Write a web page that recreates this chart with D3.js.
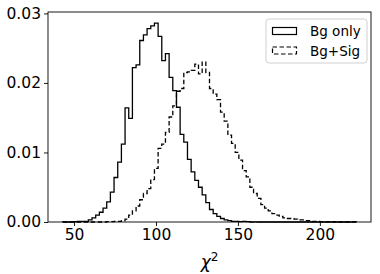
<!DOCTYPE html>
<html>
<head>
<meta charset="utf-8">
<script src="https://cdn.jsdelivr.net/npm/d3@7"></script>
<style>
  html, body { margin: 0; padding: 0; background: #fff; }
  svg { display: block; }
  text { font-family: "DejaVu Sans", sans-serif; fill: #000; }
</style>
</head>
<body>
<svg id="chart" width="380" height="274"></svg>
<script>
// ---- data (density histograms, 80 common bins) ----
const binStart = 43.05;
const binWidth = 2.24;
const bgOnly = [
  0.00003, 0, 0.00003, 0.00005, 0.0001, 0.0001,
  0.0001, 0.0003, 0.0006, 0.0010, 0.0014, 0.0020, 0.0029, 0.0043, 0.0064, 0.0086, 0.0112, 0.0164,
  0.0149, 0.0222, 0.0226, 0.0261, 0.0269, 0.0278, 0.0282, 0.0286, 0.0267, 0.0232, 0.0242, 0.0208, 0.0189, 0.0165,
  0.0126, 0.0115, 0.0090, 0.0072, 0.0060, 0.0050, 0.0039, 0.0028, 0.0018, 0.0012, 0.0008, 0.0005, 0.0003, 0.0002,
  0.0001, 0.0001, 0.00005, 0.0001, 0.00005, 0, 0.00003, 0, 0, 0, 0, 0, 0, 0,
  0, 0, 0, 0, 0, 0, 0, 0, 0, 0, 0, 0, 0, 0, 0, 0, 0, 0, 0, 0
];
const bgSig = [
  0, 0, 0, 0, 0, 0, 0, 0, 0, 0, 0, 0,
  0.00005, 0.00005, 0.0001, 0.0001, 0.0002,
  0.0004, 0.0010, 0.0016, 0.0023, 0.0032, 0.0041, 0.0048, 0.0061, 0.0077, 0.0106, 0.0112, 0.0129,
  0.0151, 0.0167, 0.0188, 0.0192, 0.0215, 0.0216, 0.0218, 0.0227, 0.0213, 0.0230, 0.0215, 0.0192, 0.0184, 0.0176,
  0.0158, 0.0145, 0.0125, 0.0113, 0.0100, 0.0089, 0.0074, 0.0065, 0.0050, 0.0041, 0.0034, 0.0025, 0.0020,
  0.0016, 0.0012, 0.0010, 0.0008, 0.0006, 0.0005, 0.0005, 0.0004, 0.0003, 0.0003, 0.0002, 0.0002, 0.0001, 0.0001,
  0.00005, 0.00005, 0.00005, 0, 0.00005, 0, 0.00003, 0, 0, 0.00003
];
const xTicks = [50, 100, 150, 200];
const yTicks = [0, 0.01, 0.02, 0.03];
const seriesNames = ["Bg only", "Bg+Sig"];

// ---- layout ----
const svg = d3.select("#chart");
const L = 48, R = 371, T = 12, B = 222;
const x = d3.scaleLinear().domain([34.1, 231.2]).range([L, R]);
const y = d3.scaleLinear().domain([0, 0.0302]).range([B, T]);

function stepPoints(vals) {
  const pts = [[binStart, 0]];
  vals.forEach((v, i) => {
    pts.push([binStart + i * binWidth, v]);
    pts.push([binStart + (i + 1) * binWidth, v]);
  });
  pts.push([binStart + vals.length * binWidth, 0]);
  return pts;
}
const line = d3.line().x(d => x(d[0])).y(d => y(d[1]));

const plot = svg.append("g");
plot.append("path").attr("d", line(stepPoints(bgOnly)))
  .attr("fill", "none").attr("stroke", "#000").attr("stroke-width", 1.3)
  .attr("stroke-linejoin", "miter");
plot.append("path").attr("d", line(stepPoints(bgSig)))
  .attr("fill", "none").attr("stroke", "#000").attr("stroke-width", 1.3)
  .attr("stroke-dasharray", "4.5,2.5");

// ---- axes ----
const xAxis = d3.axisBottom(x).tickValues(xTicks).tickSize(4).tickPadding(3)
  .tickFormat(d3.format("d"));
const yAxis = d3.axisLeft(y).tickValues(yTicks).tickSize(4).tickPadding(3)
  .tickFormat(d3.format(".2f"));
const gx = svg.append("g").attr("transform", `translate(0,${B})`).call(xAxis);
const gy = svg.append("g").attr("transform", `translate(${L},0)`).call(yAxis);
[gx, gy].forEach(g => {
  g.select(".domain").remove();
  g.selectAll(".tick line").attr("stroke", "#000").attr("stroke-width", 0.9);
  g.selectAll(".tick text").style("font-family", "DejaVu Sans, sans-serif")
    .style("font-size", "15.5px").attr("fill", "#000");
});

// frame
svg.append("rect").attr("x", L).attr("y", T).attr("width", R - L).attr("height", B - T)
  .attr("fill", "none").attr("stroke", "#000").attr("stroke-width", 0.9);

// x label
const xl = svg.append("text").attr("x", (L + R) / 2).attr("y", 268)
  .attr("text-anchor", "middle").style("font-size", "17px");
xl.append("tspan").text("χ").style("font-style", "italic");
xl.append("tspan").text("2").attr("dy", -7).style("font-size", "12px");

// ---- legend ----
const lg = svg.append("g");
lg.append("rect").attr("x", 266).attr("y", 19).attr("width", 101).attr("height", 44)
  .attr("rx", 3).attr("fill", "#fff").attr("fill-opacity", 0.8)
  .attr("stroke", "#d0d0d0").attr("stroke-width", 1);
seriesNames.forEach((name, i) => {
  const yy = 27.5 + i * 19.5;
  lg.append("rect").attr("x", 272.5).attr("y", yy).attr("width", 24).attr("height", 7)
    .attr("fill", "none").attr("stroke", "#000").attr("stroke-width", 1.2)
    .attr("stroke-dasharray", i === 1 ? "4.5,2.5" : null);
  lg.append("text").attr("x", 310).attr("y", yy + 8.5).text(name)
    .style("font-size", "13.5px");
});
</script>
</body>
</html>
